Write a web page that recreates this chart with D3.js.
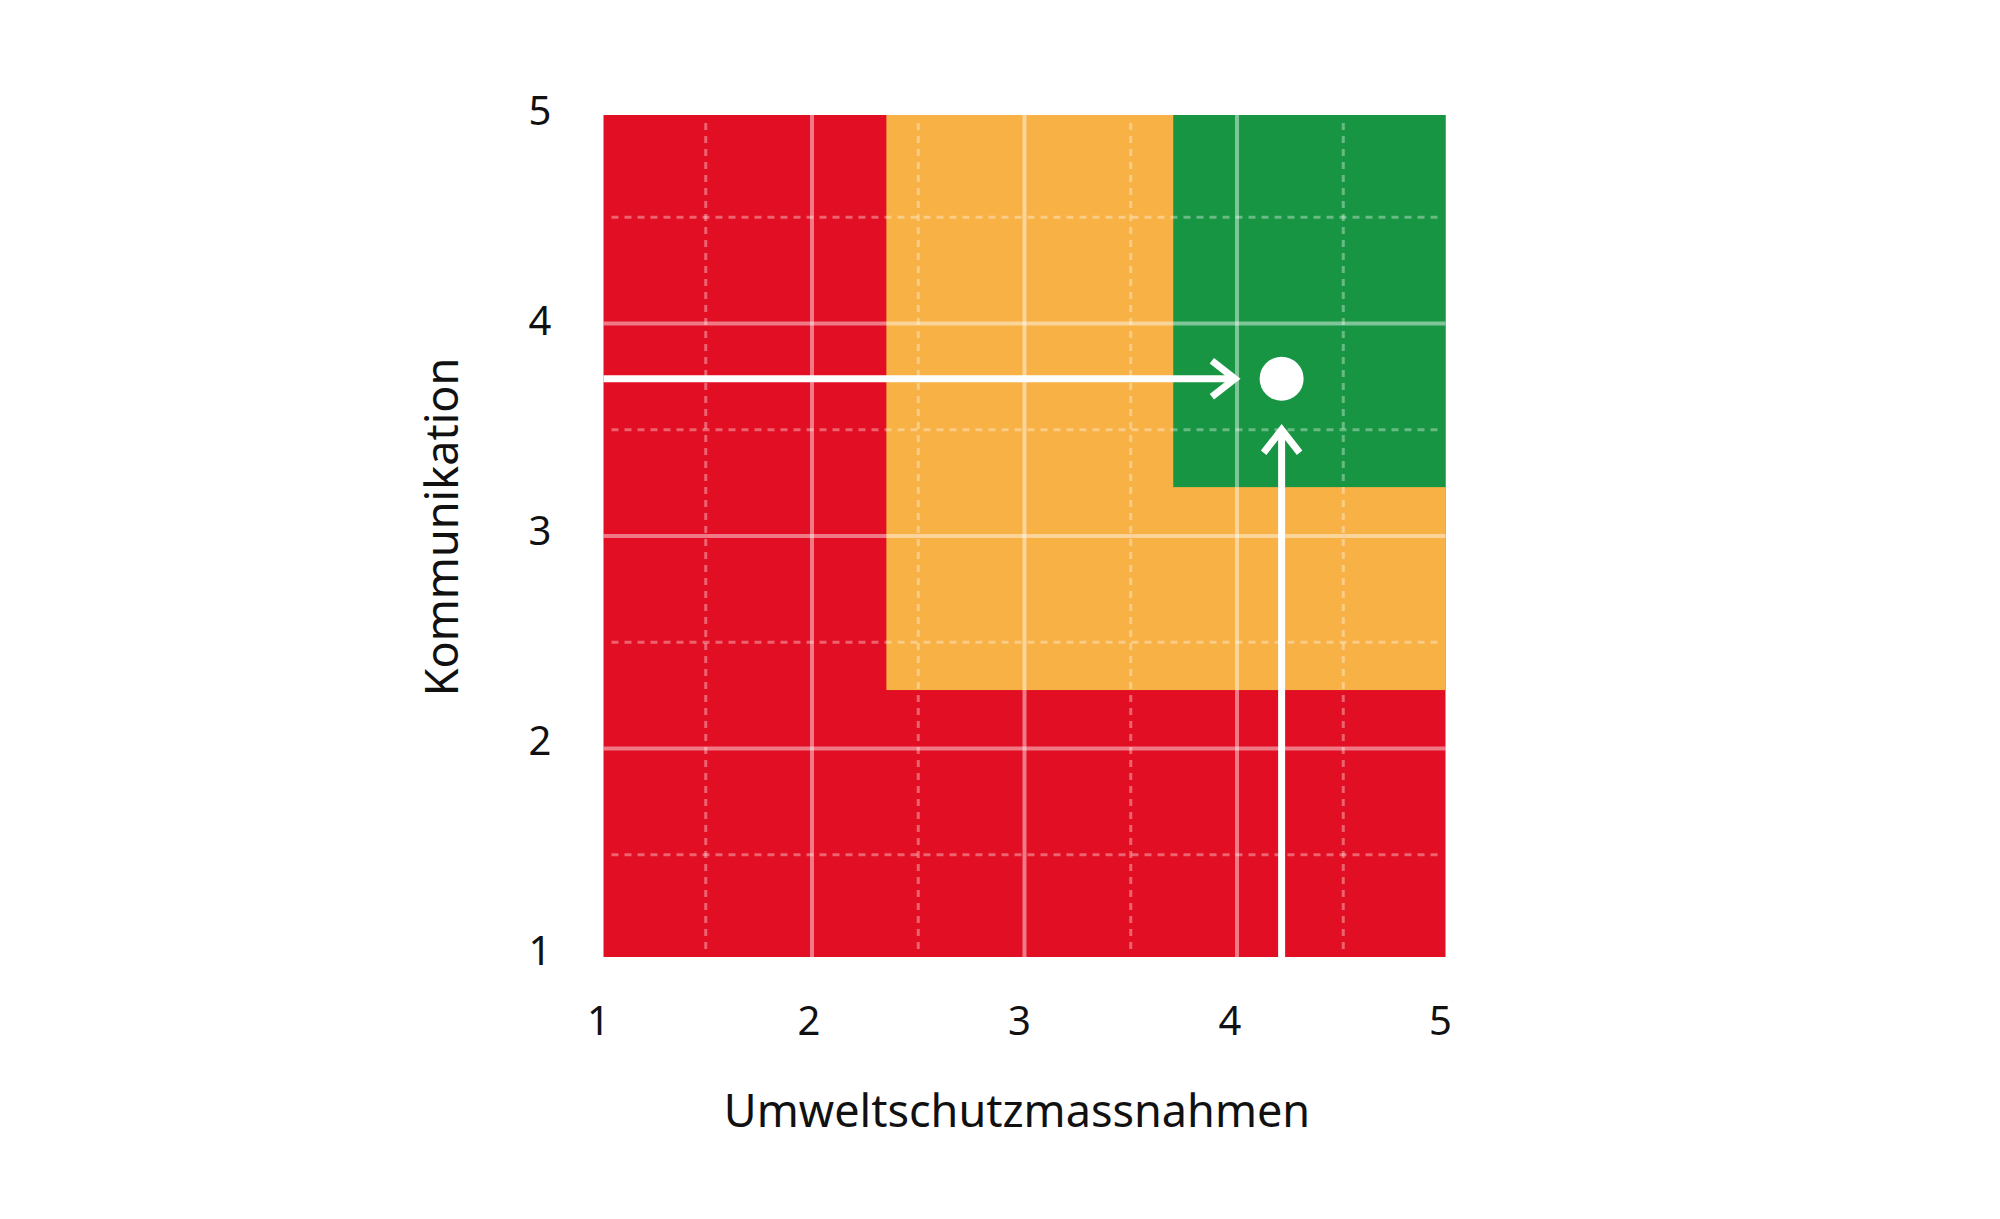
<!DOCTYPE html>
<html>
<head>
<meta charset="utf-8">
<script src="https://cdn.jsdelivr.net/npm/d3@7"></script>
<style>
  body { margin: 0; background: #fff; }
  text { font-family: "Noto Sans", sans-serif; fill: #111; }
</style>
</head>
<body>
<svg id="chart" width="2000" height="1219"></svg>
<script>
// axis ticks
const xTicks = [1, 2, 3, 4, 5];
const yTicks = [1, 2, 3, 4, 5];
const gridMajor = [2, 3, 4];
const gridMinor = [1.5, 2.5, 3.5, 4.5];

// zones (red = whole plot, then orange, then green on top)
const zoneNames = ["rot", "gelb", "gruen"];
const zoneX0 = [1, 2.35, 3.7];
const zoneY0 = [1, 2.275, 3.23];
const zoneColors = ["#e20e23", "#f8b145", "#179543"];

// the assessed point
const pointX = 4.21;
const pointY = 3.74;
const arrowTipX = 3.99;
const arrowTipY = 3.5;

const xLabel = "Umweltschutzmassnahmen";
const yLabel = "Kommunikation";

const svg = d3.select("#chart");
const x = d3.scaleLinear([1, 5], [599.5, 1449.5]);
const y = d3.scaleLinear([1, 5], [961, 111]);
// tick labels sit a little inside the grid ends
const xl = d3.scaleLinear([1, 5], [598, 1440]);
const yl = d3.scaleLinear([1, 5], [952, 112]);
const inset = 4;

const pLeft = x(1) + inset, pRight = x(5) - inset;
const pTop = y(5) + inset, pBottom = y(1) - inset;

// zones
svg.append("g")
  .selectAll("rect")
  .data(zoneNames)
  .join("rect")
  .attr("x", (d, i) => i == 0 ? pLeft : x(zoneX0[i]))
  .attr("y", pTop)
  .attr("width", (d, i) => pRight - (i == 0 ? pLeft : x(zoneX0[i])))
  .attr("height", (d, i) => (i == 0 ? pBottom : y(zoneY0[i])) - pTop)
  .attr("fill", (d, i) => zoneColors[i]);

// grid
const grid = svg.append("g");
grid.selectAll(".vmaj").data(gridMajor).join("line").attr("class", "vmaj")
  .attr("x1", d => x(d)).attr("x2", d => x(d))
  .attr("y1", pTop).attr("y2", pBottom)
  .attr("stroke", "#fff").attr("stroke-opacity", 0.45).attr("stroke-width", 4);
grid.selectAll(".hmaj").data(gridMajor).join("line").attr("class", "hmaj")
  .attr("y1", d => y(d)).attr("y2", d => y(d))
  .attr("x1", pLeft).attr("x2", pRight)
  .attr("stroke", "#fff").attr("stroke-opacity", 0.45).attr("stroke-width", 4);
grid.selectAll(".vmin").data(gridMinor).join("line").attr("class", "vmin")
  .attr("x1", d => x(d)).attr("x2", d => x(d))
  .attr("y1", pTop + 8).attr("y2", pBottom - 8)
  .attr("stroke", "#fff").attr("stroke-opacity", 0.35).attr("stroke-width", 3)
  .attr("stroke-dasharray", "7 6");
grid.selectAll(".hmin").data(gridMinor).join("line").attr("class", "hmin")
  .attr("y1", d => y(d)).attr("y2", d => y(d))
  .attr("x1", pLeft + 8).attr("x2", pRight - 8)
  .attr("stroke", "#fff").attr("stroke-opacity", 0.35).attr("stroke-width", 3)
  .attr("stroke-dasharray", "7 6");

// arrows
const arrows = svg.append("g")
  .attr("stroke", "#fff").attr("stroke-width", 7).attr("fill", "none");
const hx = x(arrowTipX), hy = y(pointY);
arrows.append("line").attr("x1", pLeft).attr("x2", hx - 3).attr("y1", hy).attr("y2", hy);
arrows.append("path").attr("d", `M${hx - 23},${hy - 18}L${hx},${hy}L${hx - 23},${hy + 18}`);
const vx = x(pointX), vy = y(arrowTipY);
arrows.append("line").attr("x1", vx).attr("x2", vx).attr("y1", pBottom).attr("y2", vy + 3);
arrows.append("path").attr("d", `M${vx - 18},${vy + 23}L${vx},${vy}L${vx + 18},${vy + 23}`);

// point
svg.append("circle")
  .attr("cx", x(pointX)).attr("cy", y(pointY)).attr("r", 22)
  .attr("fill", "#fff");

// axes (labels only)
const xAxis = svg.append("g")
  .attr("transform", `translate(0,${y(1) + 46})`)
  .call(d3.axisBottom(xl).tickValues(xTicks).tickSize(0).tickPadding(0).tickFormat(d3.format("d")));
xAxis.select(".domain").remove();
xAxis.selectAll("text").attr("font-size", 40).attr("dy", "0.71em").attr("fill", "#111")
  .attr("font-family", "Noto Sans");

const yAxis = svg.append("g")
  .attr("transform", `translate(540,0)`)
  .call(d3.axisLeft(yl).tickValues(yTicks).tickSize(0).tickPadding(0).tickFormat(d3.format("d")));
yAxis.select(".domain").remove();
yAxis.selectAll("text").attr("font-size", 40).attr("text-anchor", "middle").attr("fill", "#111")
  .attr("font-family", "Noto Sans");

svg.append("text")
  .attr("x", 1017).attr("y", 1127)
  .attr("text-anchor", "middle").attr("font-size", 45)
  .text(xLabel);

svg.append("text")
  .attr("transform", "translate(458,527) rotate(-90)")
  .attr("text-anchor", "middle").attr("font-size", 45)
  .text(yLabel);
</script>
</body>
</html>
